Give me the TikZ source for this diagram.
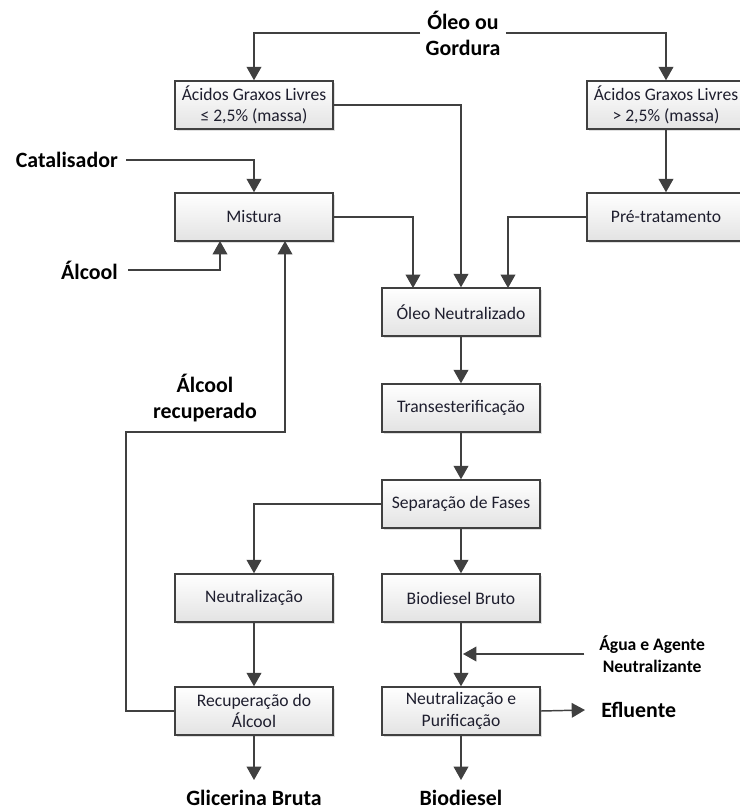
\documentclass[tikz,border=0pt]{standalone}
\usepackage{fontspec}
\setmainfont{Carlito}
\usetikzlibrary{arrows.meta,shadows}
\definecolor{ln}{HTML}{404040}
\definecolor{tx}{HTML}{1E1E2E}
\begin{document}
\begin{tikzpicture}[x=0.75pt,y=-0.75pt,
  box/.style={draw=ln,line width=1.1pt,top color=white,bottom color=black!11,
    minimum width=118.5pt,minimum height=36pt,inner sep=0pt,align=center,
    text=tx,font=\fontsize{13.2}{16.3}\selectfont,
    drop shadow={opacity=0.25,shadow xshift=1.5pt,shadow yshift=-1.5pt}},
  lab/.style={font=\bfseries\fontsize{16.4}{19.5}\selectfont,align=center,inner sep=4pt},
  slab/.style={font=\bfseries\fontsize{13.2}{16}\selectfont,align=center,inner sep=4pt},
  conn/.style={draw=ln,line width=1.1pt},
  arr/.style={conn,-{Triangle[length=10pt,width=11pt]}}]
\useasboundingbox[fill=white] (0,0) rectangle (739,810);
% labels
\node[lab] (oleo) at (463,33) {Óleo ou\\Gordura};
\node[lab,anchor=east,inner sep=0pt] (cat) at (118,160) {Catalisador};
\node[lab,anchor=east,inner sep=0pt] (alc) at (118,270) {Álcool};
\node[lab] (alcrec) at (205,398) {Álcool\\recuperado};
\node[slab,anchor=west,inner sep=0pt] (agua) at (599,654) {Água e Agente\\Neutralizante};
\node[lab,anchor=west,inner sep=0pt] (eflu) at (601,710) {Efluente};
\node[lab,inner sep=0pt] (glic) at (254,798) {Glicerina Bruta};
\node[lab,inner sep=0pt] (bio) at (461,798) {Biodiesel};
% boxes
\node[box] (agl1) at (254,105) {Ácidos Graxos Livres\\≤ 2,5\% (massa)};
\node[box] (agl2) at (666,105) {Ácidos Graxos Livres\\> 2,5\% (massa)};
\node[box] (mist) at (254,217) {Mistura};
\node[box] (pre) at (666,217) {Pré-tratamento};
\node[box] (on) at (461,312) {Óleo Neutralizado};
\node[box] (trans) at (461,408) {Transesterificação};
\node[box] (sep) at (461,504) {Separação de Fases};
\node[box] (neut) at (254,598) {Neutralização};
\node[box] (bb) at (461,598) {Biodiesel Bruto};
\node[box] (rec) at (254,711) {Recuperação do\\Álcool};
\node[box] (np) at (461,711) {Neutralização e\\Purificação};
% helper coordinates
\coordinate (onl) at (413,288);
\coordinate (onr) at (508,288);
\coordinate (mal) at (220,241);
\coordinate (mar) at (285,241);
\coordinate (rc1) at (126,711);
\coordinate (rc2) at (126,432);
\coordinate (rc3) at (285,432);
\coordinate (wj) at (463,654);
\coordinate (glicend) at (254,780);
\coordinate (bioend) at (461,780);
% connectors
\draw[arr] (oleo.west) -| (agl1.north);
\draw[arr] (oleo.east) -| (agl2.north);
\draw[arr] (agl1.east) -| (on.north);
\draw[arr] (agl2.south) -- (pre.north);
\draw[arr] (mist.east) -| (onl);
\draw[arr] (pre.west) -| (onr);
\draw[arr] (cat.east) ++(8,0) -| (mist.north);
\draw[arr] (alc.east) ++(10,0) -| (mal);
\draw[arr] (rec.west) -- (rc1) -- (rc2) -- (rc3) -- (mar);
\draw[arr] (on) -- (trans);
\draw[arr] (trans) -- (sep);
\draw[arr] (sep) -- (bb);
\draw[arr] (sep.west) -| (neut.north);
\draw[arr] (neut) -- (rec);
\draw[arr] (rec.south) -- (glicend);
\draw[arr] (bb) -- (np);
\draw[arr] (np.south) -- (bioend);
\draw[arr] ([xshift=-11pt]agua.west) -- (wj);
\draw[arr] (np.east) -- ([xshift=-12pt]eflu.west);
\end{tikzpicture}
\end{document}
